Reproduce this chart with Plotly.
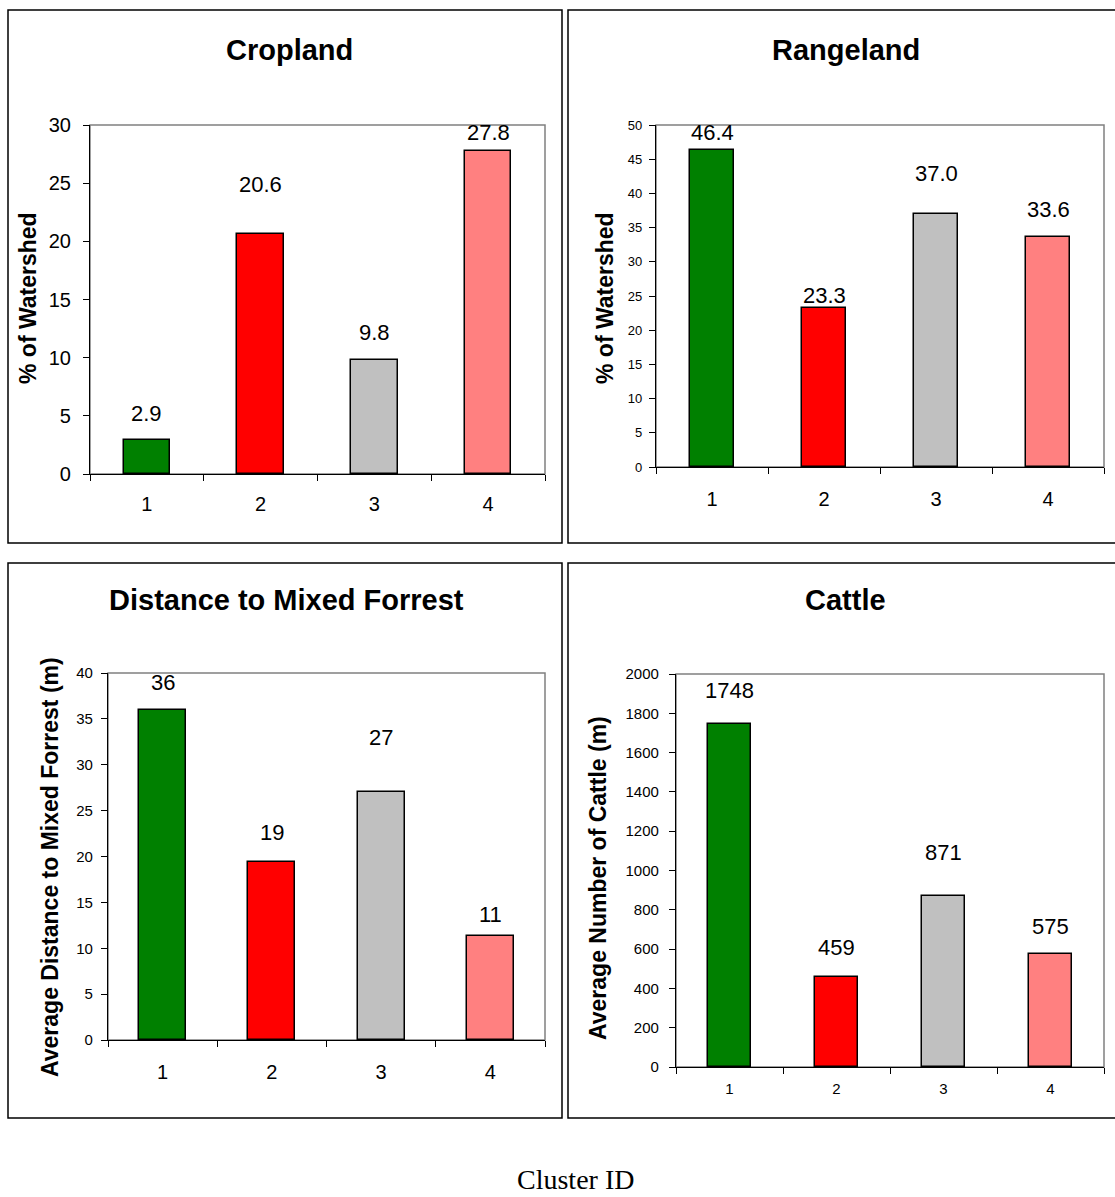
import plotly.graph_objects as go

W, H = 1115, 1197

clusters = ["1", "2", "3", "4"]
colors = ["#008000", "#FF0000", "#C0C0C0", "#FF8080"]

cropland = [2.9, 20.6, 9.8, 27.8]
rangeland = [46.4, 23.3, 37.0, 33.6]
distance = [36.0, 19.35, 27.0, 11.3]
cattle = [1748, 459, 871, 575]

titles = ["Cropland", "Rangeland", "Distance to Mixed Forrest", "Cattle"]
ytitles = ["% of Watershed", "% of Watershed",
           "Average Distance to Mixed Forrest (m)", "Average Number of Cattle (m)"]
yranges = [(0, 30), (0, 50), (0, 40), (0, 2000)]
ydticks = [5, 5, 5, 200]
label_fmt = ["{:.1f}", "{:.1f}", "{:.0f}", "{:.0f}"]
# pixel offsets of the value labels above the bar tops (as placed in the original)
label_shift = [[27, 50, 27, 18], [17, 12, 40, 28], [27, 30, 55, 22], [33, 29, 43, 28]]

def fx(px):
    return px / W

def fy(py):
    return 1 - py / H

# plot areas (pixels): x0, x1, ytop, ybottom
areas = [(90, 545, 125, 474), (656, 1104, 125, 467), (108, 545, 673, 1040), (676, 1104, 674, 1067)]
boxes = [(8, 562, 10, 543), (568, 1125, 10, 543), (8, 562, 563, 1118), (568, 1125, 563, 1118)]
title_pos = [(290, 50), (846, 50), (286, 600), (846, 600)]
title_size = [29, 29, 29, 29]
ytitle_pos = [(28, 298), (605, 298), (50, 867), (598, 878)]
bar_width = [0.41, 0.40, 0.43, 0.41]
ytick_size = [20, 13, 15, 15]
xtick_size = [20, 20, 20, 15]
xtick_standoff = [12, 14, 14, 8]
ytick_standoff = [8, 4, 5, 7]

series = [cropland, rangeland, distance, cattle]

fig = go.Figure()
shapes = []
annotations = []

for i in range(4):
    n = i + 1
    xa = "x" if n == 1 else f"x{n}"
    ya = "y" if n == 1 else f"y{n}"
    fig.add_trace(go.Bar(
        x=clusters, y=series[i], xaxis=xa, yaxis=ya,
        marker=dict(color=colors, line=dict(color="black", width=1.5)),
        width=bar_width[i], showlegend=False, hoverinfo="x+y",
    ))
    x0, x1, yt, yb = areas[i]
    xkey = "xaxis" if n == 1 else f"xaxis{n}"
    ykey = "yaxis" if n == 1 else f"yaxis{n}"
    fig.layout[xkey] = dict(
        domain=[fx(x0), fx(x1)], anchor=ya, type="category",
        categoryorder="array", categoryarray=clusters, range=[-0.5, len(clusters) - 0.5],
        tickson="boundaries", ticks="outside", ticklen=6, tickcolor="black",
        showline=True, linecolor="black", linewidth=1.2, showgrid=False,
        tickfont=dict(family="Liberation Sans, Arial", size=xtick_size[i], color="black"),
        ticklabelstandoff=xtick_standoff[i], fixedrange=True, automargin=False,
    )
    fig.layout[ykey] = dict(
        domain=[fy(yb), fy(yt)], anchor=xa, range=list(yranges[i]),
        dtick=ydticks[i], tick0=0, ticks="outside", ticklen=6, tickcolor="black",
        showline=True, linecolor="black", linewidth=1.2, showgrid=False, zeroline=False,
        tickfont=dict(family="Liberation Sans, Arial", size=ytick_size[i], color="black"),
        ticklabelstandoff=ytick_standoff[i], fixedrange=True, automargin=False,
    )
    # gray plot-area frame (top and right)
    shapes.append(dict(type="rect", xref="paper", yref="paper",
                       x0=fx(x0), x1=fx(x1), y0=fy(yb), y1=fy(yt),
                       line=dict(color="#808080", width=1.5), layer="below"))
    # panel box
    bx0, bx1, byt, byb = boxes[i]
    shapes.append(dict(type="rect", xref="paper", yref="paper",
                       x0=fx(bx0), x1=fx(bx1), y0=fy(byb), y1=fy(byt),
                       line=dict(color="black", width=1.5), layer="below"))
    # title
    tx, ty = title_pos[i]
    annotations.append(dict(text=f"<b>{titles[i]}</b>", xref="paper", yref="paper",
                            x=fx(tx), y=fy(ty), showarrow=False, xanchor="center", yanchor="middle",
                            font=dict(family="Liberation Sans, Arial", size=title_size[i], color="black")))
    # y title
    yx, yy = ytitle_pos[i]
    annotations.append(dict(text=f"<b>{ytitles[i]}</b>", xref="paper", yref="paper",
                            x=fx(yx), y=fy(yy), showarrow=False, textangle=-90,
                            xanchor="center", yanchor="middle",
                            font=dict(family="Liberation Sans, Arial", size=23, color="black")))
    # value labels (category axis: x given as category index)
    for j, v in enumerate(series[i]):
        annotations.append(dict(text=label_fmt[i].format(v), xref=xa, yref=ya,
                                x=j, y=v, yshift=label_shift[i][j], showarrow=False,
                                xanchor="center", yanchor="middle",
                                font=dict(family="Liberation Sans, Arial", size=22, color="black")))

annotations.append(dict(text="Cluster ID", xref="paper", yref="paper",
                        x=fx(575), y=fy(1179), showarrow=False, xanchor="center", yanchor="middle",
                        font=dict(family="Liberation Serif, Times New Roman", size=28, color="black")))

fig.update_layout(
    width=W, height=H, margin=dict(l=0, r=0, t=0, b=0, pad=0, autoexpand=False),
    paper_bgcolor="white", plot_bgcolor="rgba(0,0,0,0)",
    shapes=shapes, annotations=annotations, bargap=0, autosize=False,
)

fig.write_html("out.html", config={"displayModeBar": False})
